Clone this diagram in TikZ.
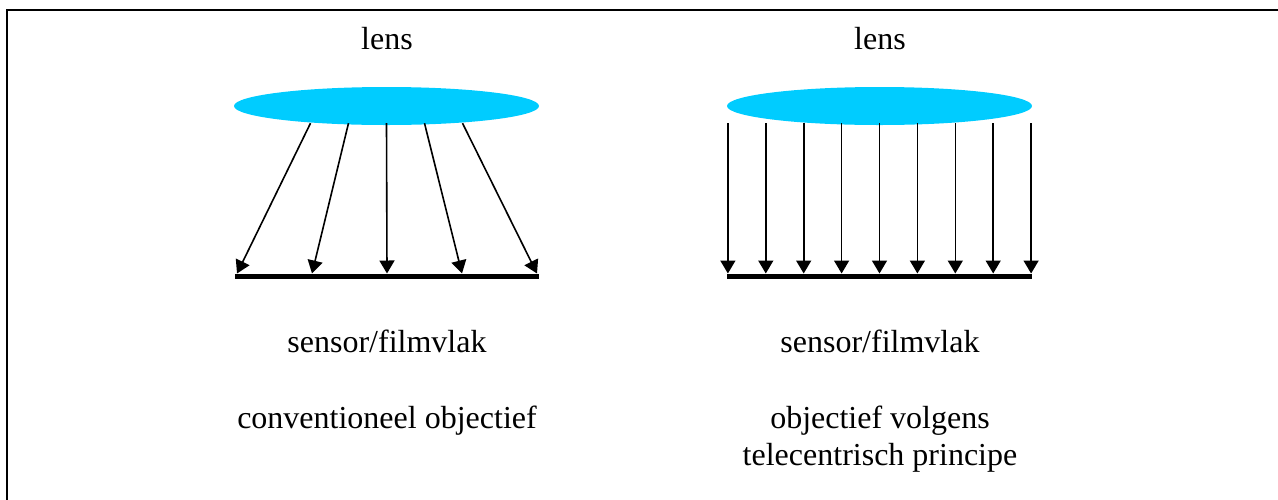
\documentclass[tikz,border=0pt]{standalone}
\usepackage{fontspec}
\setmainfont{Liberation Serif}
\usetikzlibrary{arrows.meta,shapes.geometric}
\definecolor{lenscyan}{HTML}{00CCFF}

\begin{document}
\begin{tikzpicture}[x=1pt,y=-1pt,
  lens/.style={ellipse,fill=lenscyan,minimum width=305pt,minimum height=38pt,inner sep=0pt},
  ray/.style={-{Triangle[width=15pt,length=13pt]},line width=1.6pt},
  sensor/.style={line width=5pt},
  txt/.style={font=\fontsize{32}{37}\selectfont,anchor=base,inner sep=0pt}]

\useasboundingbox (0,0) rectangle (1278,499);

% Frame
\draw[line width=2pt] (6.5,530) -- (6.5,10) -- (1300,10);

% Lenses
\node[lens] (lensL) at (386.5,106) {};
\node[lens] (lensR) at (879.5,106) {};

% Sensor planes
\coordinate (sensL) at (387,276);
\coordinate (sensR) at (879.5,276);
\draw[sensor] ([xshift=-152pt]sensL) -- ([xshift=152pt]sensL);
\draw[sensor] ([xshift=-152.5pt]sensR) -- ([xshift=152.5pt]sensR);

% Rays, conventional
\foreach \k in {-2,...,2} {
  \coordinate (inL\k) at ([xshift={(\k)*38pt},yshift=2pt]lensL.south);
  \coordinate (outL\k) at ([xshift={(\k)*75pt},yshift=2.5pt]sensL);
  \draw[ray] (inL\k) -- (outL\k);
}

% Rays, telecentric
\foreach \k in {-4,...,4} {
  \coordinate (inR\k) at ([xshift={(\k)*37.9pt},yshift=2pt]lensR.south);
  \coordinate (outR\k) at ([xshift={(\k)*37.9pt},yshift=2.5pt]sensR);
  \draw[ray] (inR\k) -- (outR\k);
}

% Labels
\node[txt] (lensLtxt) at (387,49) {lens};
\node[txt] (lensRtxt) at (880,49) {lens};
\node[txt] (sensLtxt) at (387,352) {sensor/filmvlak};
\node[txt] (sensRtxt) at (880,352) {sensor/filmvlak};
\node[txt] (convtxt) at (387,428) {conventioneel objectief};
\node[txt] (teletxtA) at (880,428) {objectief volgens};
\node[txt] (teletxtB) at (880,465) {telecentrisch principe};

\end{tikzpicture}
\end{document}
